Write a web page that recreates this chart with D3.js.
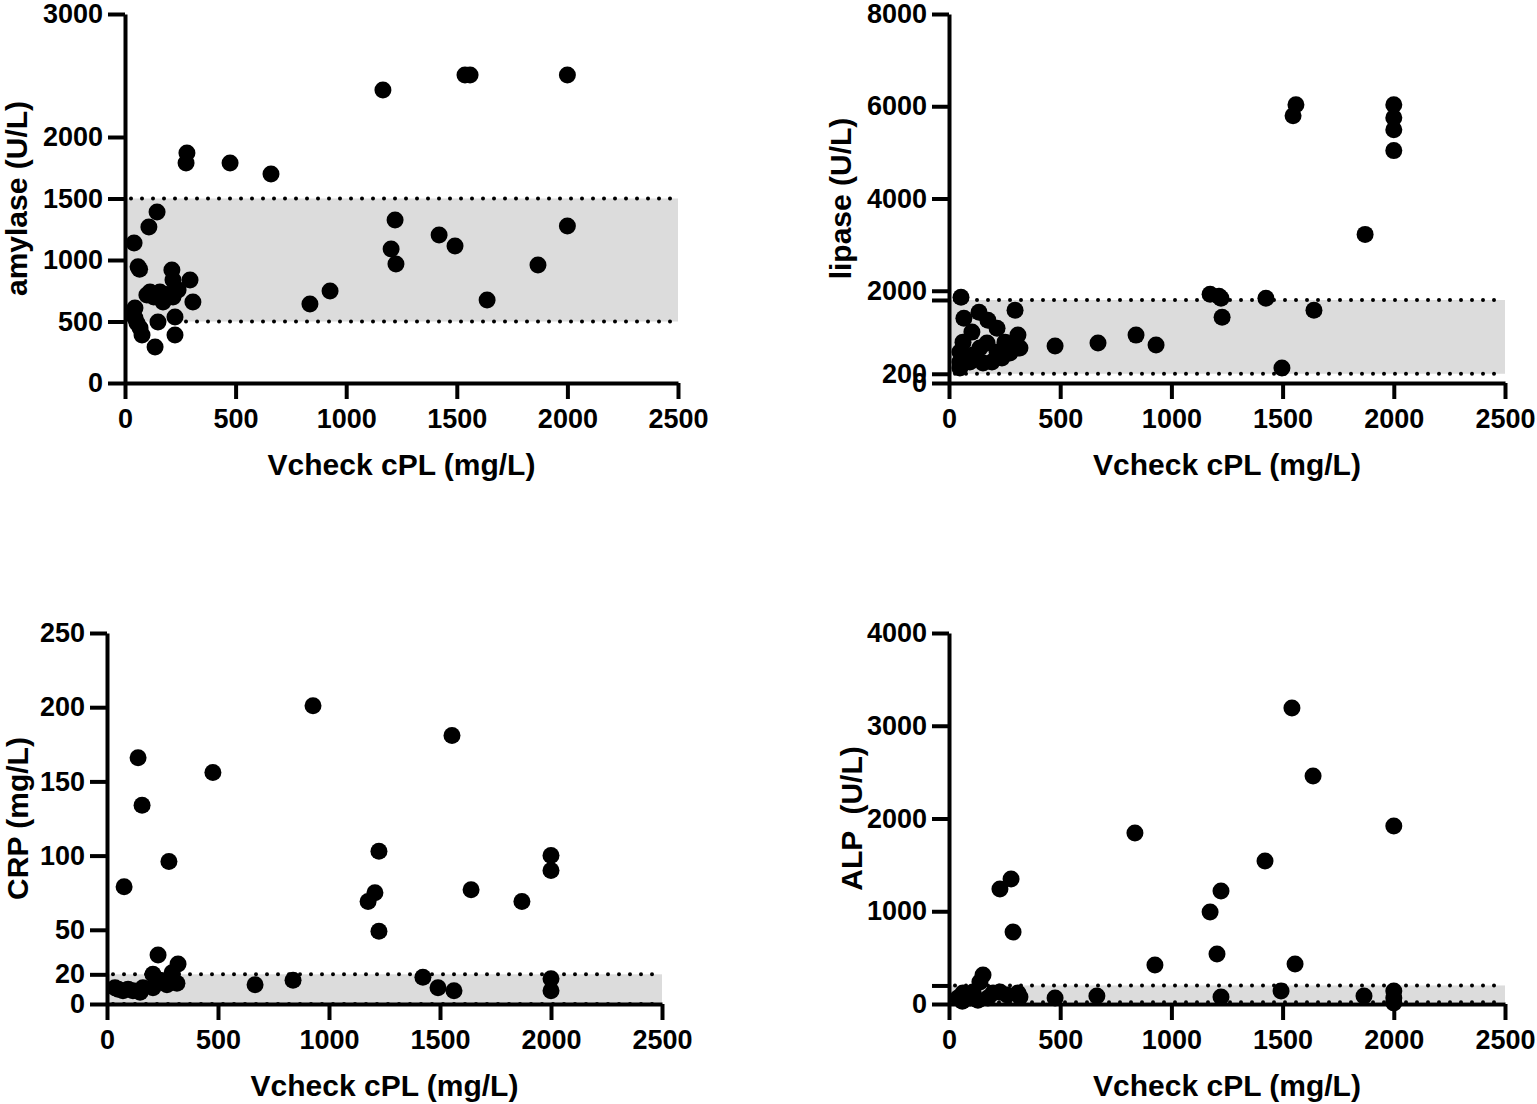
<!DOCTYPE html>
<html>
<head>
<meta charset="utf-8">
<script src="https://cdn.jsdelivr.net/npm/d3@7"></script>
<style>
  body { margin: 0; background: #fff; }
  svg { display: block; }
  .axis path, .axis line { stroke: #000; stroke-width: 4px; }
  .axis text { font-family: "Liberation Sans", Arial, sans-serif; font-weight: bold; font-size: 27px; fill: #000; }
  .title { font-family: "Liberation Sans", Arial, sans-serif; font-weight: bold; font-size: 30px; fill: #000; }
</style>
</head>
<body>
<div id="chart"></div>
<script>
// x = Vcheck cPL (mg/L), y = analyte value
var xTicks = [0, 500, 1000, 1500, 2000, 2500];

var amylasePts = [
  [41,1138],[108,1268],[145,1390],[59,945],[66,925],[280,1870],[276,1789],[475,1789],[660,1699],
  [836,642],[927,748],[1166,2382],[1203,1089],[1221,1325],[1225,967],[1420,1203],[1492,1114],
  [1537,2504],[1560,2504],[1637,675],[1867,959],[2000,2504],[2000,1276],
  [212,919],[217,837],[294,837],[307,659],[113,740],[158,740],[240,756],[217,699],[172,659],
  [45,610],[45,528],[68,447],[77,390],[149,496],[226,537],[226,390],[136,293],[99,715],[36,569],
  [54,488],[130,700],[190,720]
];
var amylaseTicks = [0, 500, 1000, 1500, 2000, 3000];
var amylaseRange = [500, 1500];

var lipasePts = [
  [54,1859],[67,1405],[135,1535],[175,1362],[216,1189],[297,1578],[310,1038],[319,757],[103,1103],
  [63,886],[49,670],[49,454],[49,324],[94,454],[139,757],[171,865],[193,454],[238,540],[274,778],
  [252,886],[274,649],[153,432],[108,605],[216,670],
  [477,800],[670,865],[841,1038],[931,822],[1174,1924],[1214,1881],[1223,1838],[1228,1427],
  [1425,1838],[1497,324],[1547,5795],[1560,6032],[1641,1578],[1871,3222],[2000,6032],[2000,5751],
  [2000,5492],[2000,5038]
];
var lipaseTicks = [0, 200, 1800, 2000, 4000, 6000, 8000];
var lipaseRange = [200, 1800];

var crpPts = [
  [77,79],[140,166],[158,134],[279,96],[477,156],[667,13],[838,16],[928,201],[1176,69],[1207,75],
  [1225,103],[1225,49],[1423,18],[1491,11],[1554,181],[1563,9],[1640,77],[1869,69],[2000,100],
  [2000,90],[2000,17],[2000,9],
  [230,33],[320,27],[293,21],[207,20],[315,14],[36,11],[72,9],[117,9],[162,11],[207,11],[239,16],
  [270,13],[149,8],[50,10],[95,10]
];
var crpTicks = [0, 20, 50, 100, 150, 200, 250];
var crpRange = [0, 20];

var alpPts = [
  [229,1240],[279,1348],[288,776],[477,65],[665,86],[836,1844],[926,420],[1174,992],[1205,539],
  [1223,1218],[1223,75],[1421,1542],[1493,140],[1542,3191],[1556,431],[1637,2458],[1866,86],
  [2000,1919],[2000,140],[2000,65],[2000,11],
  [153,313],[139,237],[63,119],[40,65],[108,129],[198,119],[229,129],[261,97],[310,119],[319,75],
  [94,65],[175,65],[60,30],[130,40]
];
var alpTicks = [0, 200, 1000, 2000, 3000, 4000];
var alpRange = [20, 200];

var svg = d3.select("#chart").append("svg")
    .attr("width", 1537)
    .attr("height", 1104);

var panels = [
  { left:125, right:678, top:14, bottom:383, ymax:3000, pts:amylasePts, ticks:amylaseTicks,
    range:amylaseRange, ylab:"amylase (U/L)", ylabX:27, hide:[] },
  { left:949, right:1505, top:14, bottom:383, ymax:8000, pts:lipasePts, ticks:lipaseTicks,
    range:lipaseRange, ylab:"lipase (U/L)", ylabX:851, hide:[1800] },
  { left:107, right:662, top:633, bottom:1004, ymax:250, pts:crpPts, ticks:crpTicks,
    range:crpRange, ylab:"CRP (mg/L)", ylabX:28, hide:[] },
  { left:949, right:1505, top:633, bottom:1004, ymax:4000, pts:alpPts, ticks:alpTicks,
    range:alpRange, ylab:"ALP  (U/L)", ylabX:862, hide:[200] }
];

panels.forEach(function(p){
    var x = d3.scaleLinear().domain([0, 2500]).range([p.left, p.right]);
    var y = d3.scaleLinear().domain([0, p.ymax]).range([p.bottom, p.top]);
    var g = svg.append("g");

    // reference band
    g.append("rect")
        .attr("x", x(0))
        .attr("width", x(2500) - x(0))
        .attr("y", y(p.range[1]))
        .attr("height", y(p.range[0]) - y(p.range[1]))
        .attr("fill", "#dcdcdc");

    p.range.forEach(function(v){
        g.append("line")
            .attr("x1", x(0) + 6).attr("x2", x(2500))
            .attr("y1", y(v)).attr("y2", y(v))
            .attr("stroke", "#000")
            .attr("stroke-width", 4)
            .attr("stroke-linecap", "round")
            .attr("stroke-dasharray", "0,11");
    });

    // points
    g.selectAll("circle").data(p.pts).enter()
        .append("circle")
        .attr("cx", function(d){ return x(d[0]); })
        .attr("cy", function(d){ return y(d[1]); })
        .attr("r", 8.5)
        .attr("fill", "#000");

    // axes
    g.append("g")
        .attr("class", "axis")
        .attr("transform", "translate(0," + p.bottom + ")")
        .call(d3.axisBottom(x).tickValues(xTicks).tickSize(16).tickSizeOuter(0).tickPadding(10)
            .tickFormat(d3.format("d")));

    g.append("g")
        .attr("class", "axis")
        .attr("transform", "translate(" + p.left + ",0)")
        .call(d3.axisLeft(y).tickValues(p.ticks).tickSize(17).tickSizeOuter(0).tickPadding(5)
            .tickFormat(function(d){ return p.hide.indexOf(d) >= 0 ? "" : d; }));

    // titles
    g.append("text")
        .attr("class", "title")
        .attr("x", (p.left + p.right) / 2)
        .attr("y", p.bottom + 92)
        .attr("text-anchor", "middle")
        .text("Vcheck cPL (mg/L)");

    g.append("text")
        .attr("class", "title")
        .attr("transform", "translate(" + p.ylabX + "," + ((p.top + p.bottom) / 2) + ") rotate(-90)")
        .attr("text-anchor", "middle")
        .style("white-space", "pre")
        .text(p.ylab);
});
</script>
</body>
</html>
